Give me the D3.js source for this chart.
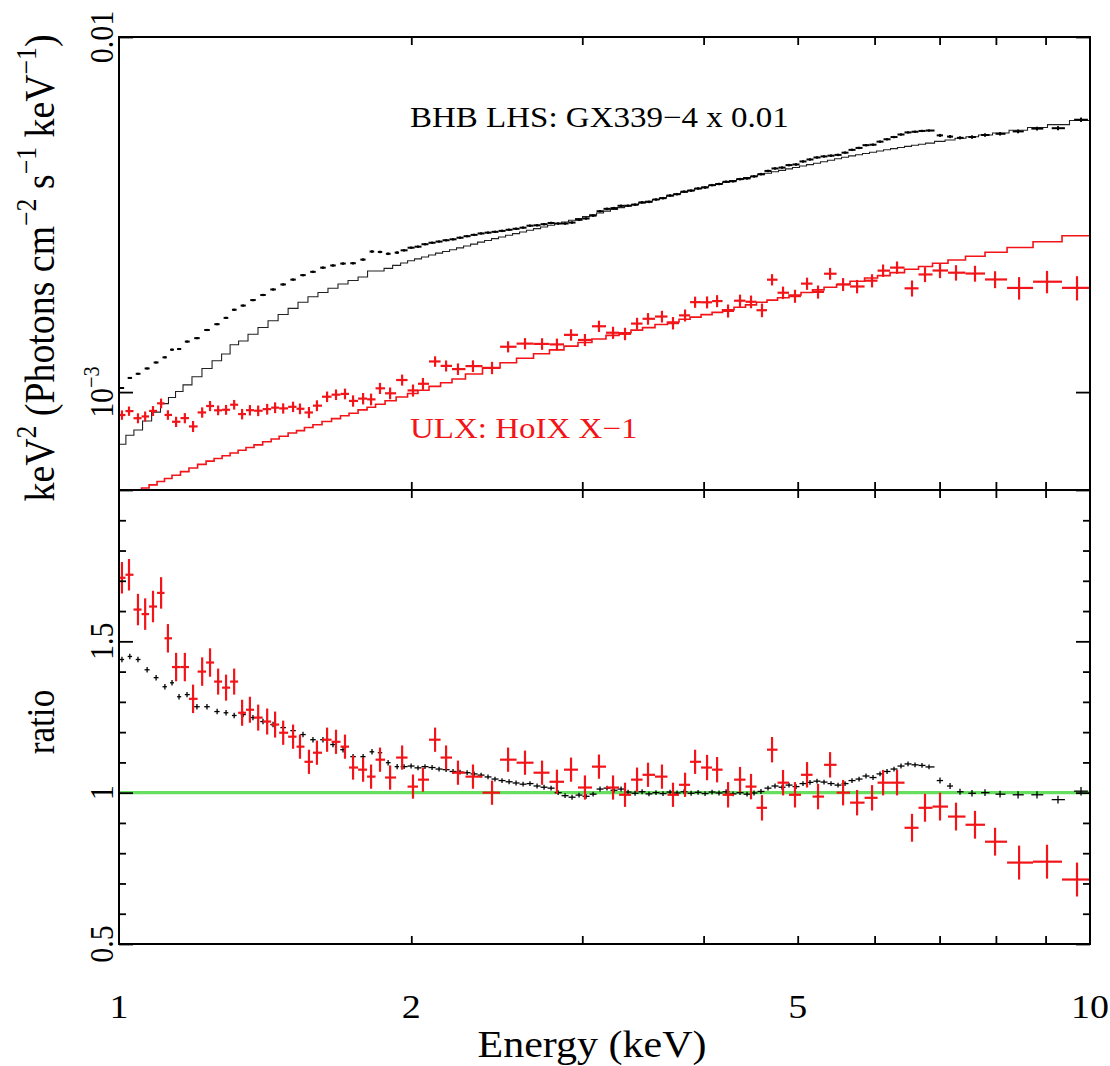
<!DOCTYPE html>
<html><head><meta charset="utf-8">
<script src="https://cdn.jsdelivr.net/npm/d3@7"></script>
<style>body{margin:0;background:#fff}svg{display:block}</style>
</head><body>
<svg id="c" width="1110" height="1066"></svg>
<script>
// ---------------- DATA ----------------
// x-axis ticks
const xTickValues = [1, 2, 5, 10];
const xTickLabels = ["1", "2", "5", "10"];
const xMinorTicks = [2, 3, 4, 5, 6, 7, 8, 9];
// top panel y ticks
const topTickValues = [1e-3, 1e-2];
// ratio panel ticks
const ratioMajor = [0.5, 1, 1.5, 2];
const ratioMinor = [0.6, 0.7, 0.8, 0.9, 1.1, 1.2, 1.3, 1.4, 1.6, 1.7, 1.8, 1.9];
const ratioLabels = ["0.5", "1", "1.5"];
const ratioLabelValues = [0.5, 1, 1.5];

const MODEL_UNIT = 1e-3; // model arrays are in units of 1e-3 (keV^2 photons cm^-2 s^-1 keV^-1)

// ULX: HoIX X-1 (red) – bin centres (keV), ratio, ratio error, model
const ulxEnergy = [1.007,1.024,1.046,1.064,1.084,1.105,1.123,1.145,1.169,1.192,
 1.218,1.241,1.265,1.289,1.314,1.339,1.364,1.391,1.421,1.448,
 1.476,1.511,1.536,1.569,1.599,1.638,1.673,1.709,1.742,1.784,
 1.818,1.857,1.902,1.957,2.008,2.056,2.116,2.172,2.234,2.315,
 2.422,2.516,2.619,2.727,2.825,2.921,3.019,3.121,3.227,3.320,
 3.416,3.506,3.624,3.720,3.828,3.920,4.033,4.130,4.239,4.361,
 4.476,4.594,4.705,4.829,4.968,5.112,5.247,5.399,5.568,5.756,
 5.964,6.122,6.328,6.557,6.762,7.007,7.278,7.613,7.984,8.452,
 9.031,9.697];
const ulxRatio = [1.71,1.72,1.605,1.59,1.615,1.66,1.51,1.415,1.415,1.31,
 1.40,1.43,1.367,1.347,1.367,1.264,1.274,1.248,1.235,1.225,
 1.198,1.185,1.152,1.102,1.132,1.175,1.168,1.152,1.083,1.076,
 1.053,1.109,1.050,1.116,1.020,1.043,1.175,1.116,1.066,1.053,
 1.000,1.109,1.099,1.066,1.036,1.076,1.017,1.086,1.017,0.993,
 1.043,1.059,1.053,0.993,1.026,1.102,1.083,1.076,0.993,1.043,
 1.020,0.950,1.142,1.033,0.993,1.059,0.987,1.092,1.000,0.967,
 0.983,1.033,1.033,0.884,0.950,0.954,0.921,0.894,0.838,0.769,
 0.772,0.713];
const ulxRatioErr = [0.052,0.052,0.052,0.052,0.052,0.052,0.047,0.047,0.047,0.047,
 0.047,0.047,0.043,0.043,0.043,0.043,0.043,0.043,0.043,0.043,
 0.040,0.040,0.040,0.040,0.040,0.040,0.040,0.040,0.040,0.040,
 0.040,0.040,0.040,0.040,0.040,0.040,0.040,0.040,0.040,0.040,
 0.040,0.040,0.040,0.040,0.040,0.040,0.040,0.040,0.040,0.040,
 0.040,0.040,0.040,0.040,0.040,0.040,0.042,0.042,0.042,0.042,
 0.042,0.042,0.042,0.042,0.042,0.042,0.042,0.042,0.042,0.042,
 0.042,0.042,0.042,0.046,0.046,0.046,0.046,0.046,0.046,0.056,
 0.056,0.056];
const ulxModel = [0.504,0.514,0.526,0.537,0.548,0.560,0.571,0.583,0.597,0.611,
 0.626,0.639,0.650,0.662,0.674,0.686,0.698,0.710,0.725,0.738,
 0.751,0.767,0.779,0.795,0.809,0.826,0.842,0.858,0.872,0.891,
 0.906,0.924,0.945,0.969,0.991,1.012,1.038,1.062,1.089,1.124,
 1.170,1.210,1.246,1.282,1.315,1.347,1.379,1.411,1.445,1.469,
 1.495,1.519,1.550,1.575,1.603,1.626,1.653,1.677,1.705,1.734,
 1.761,1.790,1.815,1.844,1.876,1.908,1.940,1.973,2.010,2.051,
 2.095,2.128,2.170,2.217,2.257,2.306,2.355,2.413,2.477,2.555,
 2.650,2.757];

// BHB LHS: GX339-4 x 0.01 (black) – bin centres, ratio, ratio error, model
const gxEnergy = [1.007,1.026,1.046,1.069,1.092,1.115,1.134,1.153,1.175,1.203,
 1.232,1.262,1.289,1.314,1.342,1.374,1.407,1.441,1.476,1.511,
 1.547,1.584,1.622,1.661,1.701,1.742,1.784,1.822,1.857,1.893,
 1.934,
 1.966,1.999,2.032,2.066,2.101,2.136,2.172,2.208,2.245,2.283,
 2.321,2.360,2.399,2.439,2.480,2.522,2.564,2.607,2.650,2.695,
 2.740,2.786,2.833,2.880,2.928,2.977,3.027,3.078,3.129,3.181,
 3.234,3.289,3.344,3.400,3.457,3.514,3.573,3.633,3.694,3.756,
 3.819,3.883,3.948,4.014,4.081,4.149,4.219,4.289,4.361,4.434,
 4.508,4.583,4.660,4.738,4.818,4.898,4.980,5.063,5.148,5.234,
 5.322,5.411,5.502,5.594,5.687,5.783,5.879,5.978,6.078,6.180,
 6.283,6.388,6.495,6.604,6.714,6.827,
 7.007,7.176,7.347,7.559,7.796,8.079,8.432,8.819,9.269,9.789];
const gxRatio = [1.44,1.45,1.44,1.406,1.38,1.35,1.363,1.317,1.324,1.284,
 1.284,1.268,1.264,1.255,1.258,1.248,1.235,1.225,1.215,1.205,
 1.192,1.175,1.175,1.159,1.142,1.119,1.119,1.135,1.132,1.099,
 1.086,
 1.086,1.088,1.082,1.086,1.083,1.078,1.076,1.070,1.068,1.066,
 1.062,1.058,1.052,1.045,1.040,1.036,1.032,1.028,1.030,1.022,
 1.018,1.015,1.000,0.990,0.985,0.992,0.988,0.995,1.012,1.015,
 1.008,1.012,1.002,0.998,1.003,0.996,1.000,0.997,1.002,0.999,
 1.003,0.998,1.001,0.997,1.002,0.999,1.003,0.996,1.000,0.995,
 0.999,1.004,1.015,1.022,1.018,1.025,1.020,1.030,1.034,1.038,
 1.035,1.030,1.025,1.030,1.040,1.045,1.055,1.050,1.062,1.070,
 1.078,1.088,1.095,1.092,1.090,1.085,
 1.040,1.022,1.003,0.998,1.000,0.995,0.993,0.993,0.977,1.005];
const gxRatioErr = [0.009,0.009,0.009,0.009,0.009,0.009,0.009,0.009,0.009,0.009,
 0.009,0.009,0.009,0.009,0.009,0.009,0.009,0.009,0.009,0.009,
 0.009,0.009,0.009,0.009,0.009,0.009,0.009,0.009,0.009,0.009,
 0.009,
 0.008,0.008,0.008,0.008,0.008,0.008,0.008,0.008,0.008,0.008,
 0.008,0.008,0.008,0.008,0.008,0.008,0.008,0.008,0.008,0.008,
 0.008,0.008,0.008,0.008,0.008,0.008,0.008,0.008,0.008,0.008,
 0.008,0.008,0.008,0.008,0.008,0.008,0.008,0.008,0.008,0.008,
 0.008,0.008,0.008,0.008,0.008,0.008,0.008,0.008,0.008,0.008,
 0.008,0.008,0.008,0.008,0.008,0.008,0.008,0.008,0.008,0.008,
 0.008,0.008,0.008,0.008,0.008,0.008,0.008,0.008,0.008,0.008,
 0.008,0.008,0.008,0.008,0.008,0.008,
 0.010,0.010,0.010,0.011,0.011,0.011,0.012,0.012,0.013,0.014];
const gxModel = [0.713,0.756,0.782,0.829,0.878,0.928,0.966,1.004,1.048,1.105,
 1.165,1.225,1.280,1.359,1.393,1.455,1.520,1.588,1.654,1.721,
 1.791,1.856,1.907,1.961,2.015,2.061,2.110,2.192,2.192,2.231,
 2.275,
 2.309,2.344,2.373,2.402,2.432,2.462,2.488,2.517,2.548,2.578,
 2.610,2.644,2.673,2.705,2.735,2.765,2.794,2.825,2.856,2.886,
 2.918,2.950,2.983,3.014,3.048,3.081,3.120,3.156,3.193,3.233,
 3.271,3.307,3.342,3.377,3.412,3.447,3.486,3.527,3.570,3.612,
 3.657,3.700,3.741,3.780,3.819,3.859,3.899,3.940,3.979,4.018,
 4.054,4.094,4.134,4.172,4.212,4.251,4.290,4.332,4.371,4.411,
 4.454,4.498,4.542,4.586,4.625,4.661,4.700,4.737,4.777,4.815,
 4.849,4.884,4.919,4.954,4.989,5.025,
 5.081,5.130,5.184,5.238,5.296,5.365,5.460,5.560,5.666,5.819];

// ---------------- LAYOUT ----------------
const L = 119, R = 1090, T = 37, M = 490, B = 944;
const RED = "#f21418", GREEN = "#66de5e", BLACK = "#000";
const FONT = "Liberation Serif, Times New Roman, serif";
const SY = 0.88; // vertical squash of text (as in reference)

const svg = d3.select("#c");
const x = d3.scaleLog().domain([1, 10]).range([L, R]);
const yTop = d3.scaleLog().domain([5.3e-4, 1e-2]).range([M, T]);
const yRat = d3.scaleLinear().domain([0.5, 2]).range([B, M]);

const defs = svg.append("defs");
defs.append("clipPath").attr("id", "clipTop").append("rect").attr("x", L).attr("y", T).attr("width", R - L).attr("height", M - T);
defs.append("clipPath").attr("id", "clipBot").append("rect").attr("x", L).attr("y", M).attr("width", R - L).attr("height", B - M);

function binEdges(E) {
  const n = E.length, lo = [], hi = [];
  for (let i = 0; i < n; i++) {
    lo.push(i > 0 ? Math.sqrt(E[i - 1] * E[i]) : E[0] / Math.sqrt(E[1] / E[0]));
    hi.push(i < n - 1 ? Math.sqrt(E[i] * E[i + 1]) : E[n - 1] * Math.sqrt(E[n - 1] / E[n - 2]));
  }
  return { lo, hi };
}

function buildSeries(E, ratio, err, model, barFrac) {
  const { lo, hi } = binEdges(E);
  return E.map((e, i) => ({
    e, lo: lo[i], hi: hi[i], r: ratio[i], re: err[i],
    m: model[i] * MODEL_UNIT,
    d: model[i] * MODEL_UNIT * ratio[i],
    de: model[i] * MODEL_UNIT * err[i],
    f: barFrac(i, e)
  }));
}

const ulx = buildSeries(ulxEnergy, ulxRatio, ulxRatioErr, ulxModel, () => 1);
const gx = buildSeries(gxEnergy, gxRatio, gxRatioErr, gxModel, (i, e) => (e < 1.95 ? 0.55 : (e > 6.9 ? 0.6 : 1)));

const gTop = svg.append("g").attr("clip-path", "url(#clipTop)");
const gBot = svg.append("g").attr("clip-path", "url(#clipBot)");

function stepPoints(s) {
  const pts = [];
  s.forEach(b => { pts.push([b.lo, b.m]); pts.push([b.hi, b.m]); });
  return pts;
}
const stepLine = d3.line().x(p => x(p[0])).y(p => yTop(p[1]));

// models (top)
gTop.append("path").attr("d", stepLine(stepPoints(gx))).attr("fill", "none").attr("stroke", "#222").attr("stroke-width", 1.1);
gTop.append("path").attr("d", stepLine(stepPoints(ulx))).attr("fill", "none").attr("stroke", RED).attr("stroke-width", 1.6);

function crosses(g, data, yScale, valKey, errKey, color, sw) {
  const grp = g.append("g").attr("stroke", color).attr("stroke-width", sw).attr("fill", "none");
  data.forEach(b => {
    const xc = x(b.e);
    const xl = xc - b.f * (xc - x(b.lo));
    const xr = xc + b.f * (x(b.hi) - xc);
    const v = b[valKey], er = b[errKey];
    const yc = yScale(v);
    grp.append("line").attr("x1", xl).attr("x2", xr).attr("y1", yc).attr("y2", yc);
    grp.append("line").attr("x1", xc).attr("x2", xc).attr("y1", yScale(v - er)).attr("y2", yScale(v + er));
  });
}

// data (top)
crosses(gTop, gx, yTop, "d", "de", BLACK, 2);
crosses(gTop, ulx, yTop, "d", "de", RED, 2.2);

// ratio panel
gBot.append("line").attr("x1", L).attr("x2", R).attr("y1", yRat(1)).attr("y2", yRat(1))
  .attr("stroke", GREEN).attr("stroke-width", 3.2);
crosses(gBot, gx, yRat, "r", "re", BLACK, 1.3);
crosses(gBot, ulx, yRat, "r", "re", RED, 2.2);

// ---------------- AXES / FRAME ----------------
const axG = svg.append("g");
function styleAxis(sel) {
  sel.select(".domain").remove();
  sel.selectAll(".tick line").attr("stroke", "#000").attr("stroke-width", 1.8);
  sel.selectAll(".tick text").remove();
}
axG.append("g").attr("transform", `translate(0,${B})`).call(d3.axisTop(x).tickValues(xMinorTicks).tickSize(8)).call(styleAxis);
axG.append("g").attr("transform", `translate(0,${M})`).call(d3.axisTop(x).tickValues(xMinorTicks).tickSize(8)).call(styleAxis);
axG.append("g").attr("transform", `translate(0,${M})`).call(d3.axisBottom(x).tickValues(xMinorTicks).tickSize(8)).call(styleAxis);
axG.append("g").attr("transform", `translate(0,${T})`).call(d3.axisBottom(x).tickValues(xMinorTicks).tickSize(8)).call(styleAxis);

axG.append("g").attr("transform", `translate(${L},0)`).call(d3.axisRight(yTop).tickValues(topTickValues).tickSize(14)).call(styleAxis);
axG.append("g").attr("transform", `translate(${R},0)`).call(d3.axisLeft(yTop).tickValues(topTickValues).tickSize(14)).call(styleAxis);
axG.append("g").attr("transform", `translate(${L},0)`).call(d3.axisRight(yRat).tickValues(ratioMajor).tickSize(14)).call(styleAxis);
axG.append("g").attr("transform", `translate(${L},0)`).call(d3.axisRight(yRat).tickValues(ratioMinor).tickSize(7)).call(styleAxis);
axG.append("g").attr("transform", `translate(${R},0)`).call(d3.axisLeft(yRat).tickValues(ratioMajor).tickSize(14)).call(styleAxis);
axG.append("g").attr("transform", `translate(${R},0)`).call(d3.axisLeft(yRat).tickValues(ratioMinor).tickSize(7)).call(styleAxis);

axG.append("rect").attr("x", L).attr("y", T).attr("width", R - L).attr("height", B - T)
  .attr("fill", "none").attr("stroke", "#000").attr("stroke-width", 2);
axG.append("line").attr("x1", L).attr("x2", R).attr("y1", M).attr("y2", M).attr("stroke", "#000").attr("stroke-width", 2);

// ---------------- TEXT ----------------
function richText(parent, segs, tx, ty, size, opts = {}) {
  const rot = opts.rotate ? " rotate(-90)" : "";
  const t = parent.append("text")
    .attr("transform", `translate(${tx},${ty}) scale(1,${SY})${rot}`)
    .attr("font-family", FONT).attr("font-size", size)
    .attr("text-anchor", opts.anchor || "middle")
    .attr("fill", opts.color || "#000");
  let raised = false;
  segs.forEach(s => {
    const sup = typeof s !== "string";
    const txt = sup ? s.sup : s;
    const sp = t.append("tspan").text(txt);
    if (sup && !raised) { sp.attr("dy", -0.42 * size).attr("font-size", size * 0.68); raised = true; }
    else if (sup) { sp.attr("font-size", size * 0.68); }
    else if (!sup && raised) { sp.attr("dy", 0.42 * size); raised = false; }
  });
  return t;
}

const txt = svg.append("g");
// x tick labels
xTickValues.forEach((v, i) => richText(txt, [xTickLabels[i]], x(v), 1018, 38));
richText(txt, ["Energy (keV)"], 592, 1057, 42);

// y tick labels (rotated)
const YLX = 113;
richText(txt, ["0.01"], YLX, yTop(1e-2), 34, { rotate: true });
richText(txt, ["10", { sup: "−3" }], YLX, yTop(1e-3), 34, { rotate: true });
ratioLabelValues.forEach((v, i) => richText(txt, [ratioLabels[i]], YLX, yRat(v), 34, { rotate: true }));

// axis titles
richText(txt, ["keV", { sup: "2" }, " (Photons cm", { sup: "−2" }, " s", { sup: "−1" }, " keV", { sup: "−1" }, ")"],
  54, 268, 43, { rotate: true });
richText(txt, ["ratio"], 54, 722, 40, { rotate: true });

// annotations
richText(txt, ["BHB LHS: GX339−4 x 0.01"], 410, 127, 33, { anchor: "start" });
richText(txt, ["ULX: HoIX X−1"], 410, 438, 33, { anchor: "start", color: RED });
</script>
</body></html>
